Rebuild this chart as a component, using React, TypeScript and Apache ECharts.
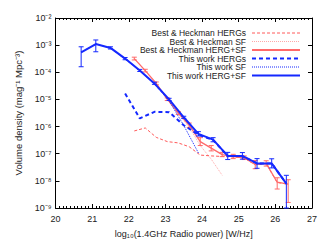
import React, { useEffect, useRef } from "react";
import * as echarts from "echarts";

// ---- Data ----
const twX = [20.7, 21.1, 21.5, 21.9, 22.3, 22.7, 23.1, 23.5, 23.9, 24.3, 24.7, 25.1, 25.5, 25.9, 26.3];
const twTotal = [5.4e-4, 1.1e-3, 7.9e-4, 3.2e-4, 1.17e-4, 3.9e-5, 1.0e-5, 2.2e-6, 5.4e-7, 3.3e-7, 8.3e-8, 8.3e-8, 4.4e-8, 4.4e-8, 7.9e-9];
const twErrLo = [1.6e-4, 5.7e-4, 7.2e-4, 2.9e-4, 1.07e-4, 3.6e-5, 9.1e-6, 2.0e-6, 4.5e-7, 2.75e-7, 6.1e-8, 6.3e-8, 2.9e-8, 3.0e-8, 1e-9];
const twErrHi = [8.7e-4, 1.55e-3, 8.7e-4, 3.5e-4, 1.28e-4, 4.3e-5, 1.1e-5, 2.4e-6, 6.5e-7, 3.9e-7, 1.12e-7, 1.1e-7, 6.6e-8, 6.5e-8, 1.6e-8];
const twHergX = [21.9, 22.3, 22.7, 23.1, 23.5, 23.9, 24.3, 24.7, 25.1, 25.5, 25.9, 26.3];
const twHerg = [1.66e-5, 2.0e-6, 3.5e-6, 3.4e-6, 1.12e-6, 5.0e-7, 3.2e-7, 8.2e-8, 8.2e-8, 4.4e-8, 4.4e-8, 7.9e-9];
const twSfX = [20.7, 21.1, 21.5, 21.9, 22.3, 22.7, 23.1, 23.5, 23.9];
const twSf = [5.4e-4, 1.1e-3, 7.9e-4, 3.0e-4, 1.15e-4, 3.6e-5, 8.9e-6, 1.1e-6, 1.07e-7];

const bhX = [22.15, 22.45, 22.75, 23.05, 23.35, 23.65, 23.95, 24.25, 24.55, 24.85, 25.15, 25.45, 25.75, 26.05, 26.35];
const bhTotal = [3.2e-4, 1.15e-4, 3.9e-5, 1.02e-5, 3.2e-6, 1.12e-6, 2.8e-7, 1.6e-7, 9.3e-8, 7.9e-8, 7.1e-8, 4.0e-8, 4.4e-8, 8.9e-9, 7.6e-9];
const bhErrLo = [2.85e-4, 1.03e-4, 3.5e-5, 9.1e-6, 2.8e-6, 9.3e-7, 2.0e-7, 1.27e-7, 7.8e-8, 6.6e-8, 6.1e-8, 2.8e-8, 3.5e-8, 5.0e-9, 1.6e-9];
const bhErrHi = [3.6e-4, 1.29e-4, 4.4e-5, 1.14e-5, 3.6e-6, 1.35e-6, 3.9e-7, 2.0e-7, 1.12e-7, 9.5e-8, 8.3e-8, 5.6e-8, 5.5e-8, 1.3e-8, 1.1e-8];
const bhHerg = [6.9e-7, 8.9e-7, 4.0e-7, 2.8e-7, 2.5e-7, 1.8e-7, 8.9e-8, 8.3e-8, 7.9e-8, 7.6e-8, 6.9e-8, 3.9e-8, 4.3e-8, 8.7e-9, 7.5e-9];
const bhSfX = [22.15, 22.45, 22.75, 23.05, 23.35, 23.65, 23.95, 24.25, 24.55];
const bhSf = [3.2e-4, 1.14e-4, 3.85e-5, 9.9e-6, 2.9e-6, 9.4e-7, 2.0e-7, 6.3e-8, 1.6e-8];

const xTicks = [20, 21, 22, 23, 24, 25, 26, 27];
const legendLabels = [
  "Best & Heckman HERGs",
  "Best & Heckman SF",
  "Best & Heckman HERG+SF",
  "This work HERGs",
  "This work SF",
  "This work HERG+SF",
];

const BLUE = "#1428ff";
const RED = "#ff6a6a";
const RED_DASH = "#ff5a5a";
const PINK = "#ffa8a8";
const FONT = "Liberation Sans";

const SUP: Record<string, string> = {
  "-": "\u207b", "0": "\u2070", "1": "\u00b9", "2": "\u00b2", "3": "\u00b3",
  "4": "\u2074", "5": "\u2075", "6": "\u2076", "7": "\u2077", "8": "\u2078", "9": "\u2079",
};
const sup = (s: string) => s.split("").map((c) => SUP[c] || c).join("");

const pairs = (xs: number[], ys: number[]) => xs.map((x, i) => [x, ys[i]]);

function errSeries(xs: number[], lo: number[], hi: number[], color: string, cap: number, width: number) {
  return {
    type: "custom",
    silent: true,
    z: 4,
    data: xs.map((x, i) => [x, lo[i], hi[i]]),
    encode: { x: 0, y: [1, 2] },
    renderItem: (_params: any, api: any) => {
      const x = api.value(0);
      const p1 = api.coord([x, api.value(1)]);
      const p2 = api.coord([x, api.value(2)]);
      const st = { stroke: color, lineWidth: width };
      return {
        type: "group",
        children: [
          { type: "line", shape: { x1: p1[0], y1: p1[1], x2: p2[0], y2: p2[1] }, style: st },
          { type: "line", shape: { x1: p1[0] - cap, y1: p1[1], x2: p1[0] + cap, y2: p1[1] }, style: st },
          { type: "line", shape: { x1: p2[0] - cap, y1: p2[1], x2: p2[0] + cap, y2: p2[1] }, style: st },
        ],
      };
    },
  };
}

export default function App() {
  const ref = useRef<HTMLDivElement>(null);
  useEffect(() => {
    if (!ref.current) return;
    const chart = echarts.init(ref.current, null, { renderer: "svg" });

    const legendStyles = [
      { stroke: RED_DASH, lineWidth: 1, lineDash: [3, 2] },
      { stroke: PINK, lineWidth: 1, lineDash: [1, 1] },
      { stroke: RED, lineWidth: 2 },
      { stroke: BLUE, lineWidth: 2, lineDash: [4, 3] },
      { stroke: BLUE, lineWidth: 1, lineDash: [1, 1] },
      { stroke: BLUE, lineWidth: 2 },
    ];
    const legendGraphic: any[] = [];
    legendLabels.forEach((t, i) => {
      const y = 33 + i * 8.5;
      legendGraphic.push({
        type: "text",
        x: 246,
        y,
        style: { text: t, fill: "#222", font: `8.5px "${FONT}"`, align: "right", verticalAlign: "middle" },
      });
      legendGraphic.push({
        type: "line",
        shape: { x1: 252, y1: y, x2: 300, y2: y },
        style: legendStyles[i],
      });
    });

    const axisLineStyle = { color: "#000", width: 1 };
    const option: any = {
      animation: false,
      grid: { left: 55.5, right: 19, top: 18, bottom: 36 },
      xAxis: [
        {
          type: "value",
          min: xTicks[0],
          max: xTicks[xTicks.length - 1],
          interval: 1,
          position: "bottom",
          name: "log\u2081\u2080(1.4GHz Radio power) [W/Hz]",
          nameLocation: "middle",
          nameGap: 21,
          nameTextStyle: { fontFamily: FONT, fontSize: 9, color: "#222" },
          axisLine: { show: true, lineStyle: axisLineStyle },
          axisTick: { show: true, inside: true, length: 4, lineStyle: axisLineStyle },
          minorTick: { show: true, splitNumber: 10, length: 2, lineStyle: axisLineStyle },
          axisLabel: { fontFamily: FONT, fontSize: 9, color: "#222", margin: 6 },
          splitLine: { show: false },
        },
        {
          type: "value",
          min: xTicks[0],
          max: xTicks[xTicks.length - 1],
          interval: 1,
          position: "top",
          axisLine: { show: true, lineStyle: axisLineStyle },
          axisTick: { show: true, inside: true, length: 4, lineStyle: axisLineStyle },
          minorTick: { show: true, splitNumber: 10, length: 2, lineStyle: axisLineStyle },
          axisLabel: { show: false },
          splitLine: { show: false },
        },
      ],
      yAxis: [
        {
          type: "log",
          logBase: 10,
          min: 1e-9,
          max: 1e-2,
          position: "left",
          name: "Volume density (mag\u207b\u00b9 Mpc\u207b\u00b3)",
          nameLocation: "middle",
          nameGap: 27,
          nameTextStyle: { fontFamily: FONT, fontSize: 9.5, color: "#222" },
          axisLine: { show: true, lineStyle: axisLineStyle },
          axisTick: { show: true, inside: true, length: 4, lineStyle: axisLineStyle },
          axisLabel: {
            fontFamily: FONT,
            fontSize: 9,
            color: "#222",
            margin: 4,
            formatter: (v: number) => "10" + sup(String(Math.round(Math.log10(v)))),
          },
          splitLine: { show: false },
        },
        {
          type: "log",
          logBase: 10,
          min: 1e-9,
          max: 1e-2,
          position: "right",
          axisLine: { show: true, lineStyle: axisLineStyle },
          axisTick: { show: true, inside: true, length: 4, lineStyle: axisLineStyle },
          axisLabel: { show: false },
          splitLine: { show: false },
        },
      ],
      graphic: legendGraphic,
      series: [
        {
          type: "line", data: pairs(bhSfX, bhSf), showSymbol: false, symbol: "none",
          lineStyle: { color: PINK, width: 1, type: [1, 1] }, z: 2,
        },
        {
          type: "line", data: pairs(bhX, bhHerg), showSymbol: false, symbol: "none",
          lineStyle: { color: RED_DASH, width: 1, type: [3, 2] }, z: 2,
        },
        {
          type: "line", data: pairs(bhX, bhTotal), showSymbol: false, symbol: "none",
          lineStyle: { color: RED, width: 1.3 }, z: 3,
        },
        errSeries(bhX, bhErrLo, bhErrHi, RED, 2.5, 1),
        {
          type: "line", data: pairs(twSfX, twSf), showSymbol: false, symbol: "none",
          lineStyle: { color: BLUE, width: 1, type: [1, 1] }, z: 5,
        },
        {
          type: "line", data: pairs(twHergX, twHerg), showSymbol: false, symbol: "none",
          lineStyle: { color: BLUE, width: 2, type: [4, 3] }, z: 5,
        },
        {
          type: "line", data: pairs(twX, twTotal), showSymbol: false, symbol: "none",
          lineStyle: { color: BLUE, width: 2 }, z: 6,
        },
        errSeries(twX, twErrLo, twErrHi, BLUE, 2.5, 1),
      ],
    };
    chart.setOption(option);
    return () => chart.dispose();
  }, []);
  return <div ref={ref} style={{ width: 331, height: 244, position: "absolute", left: 0, top: 0 }} />;
}
